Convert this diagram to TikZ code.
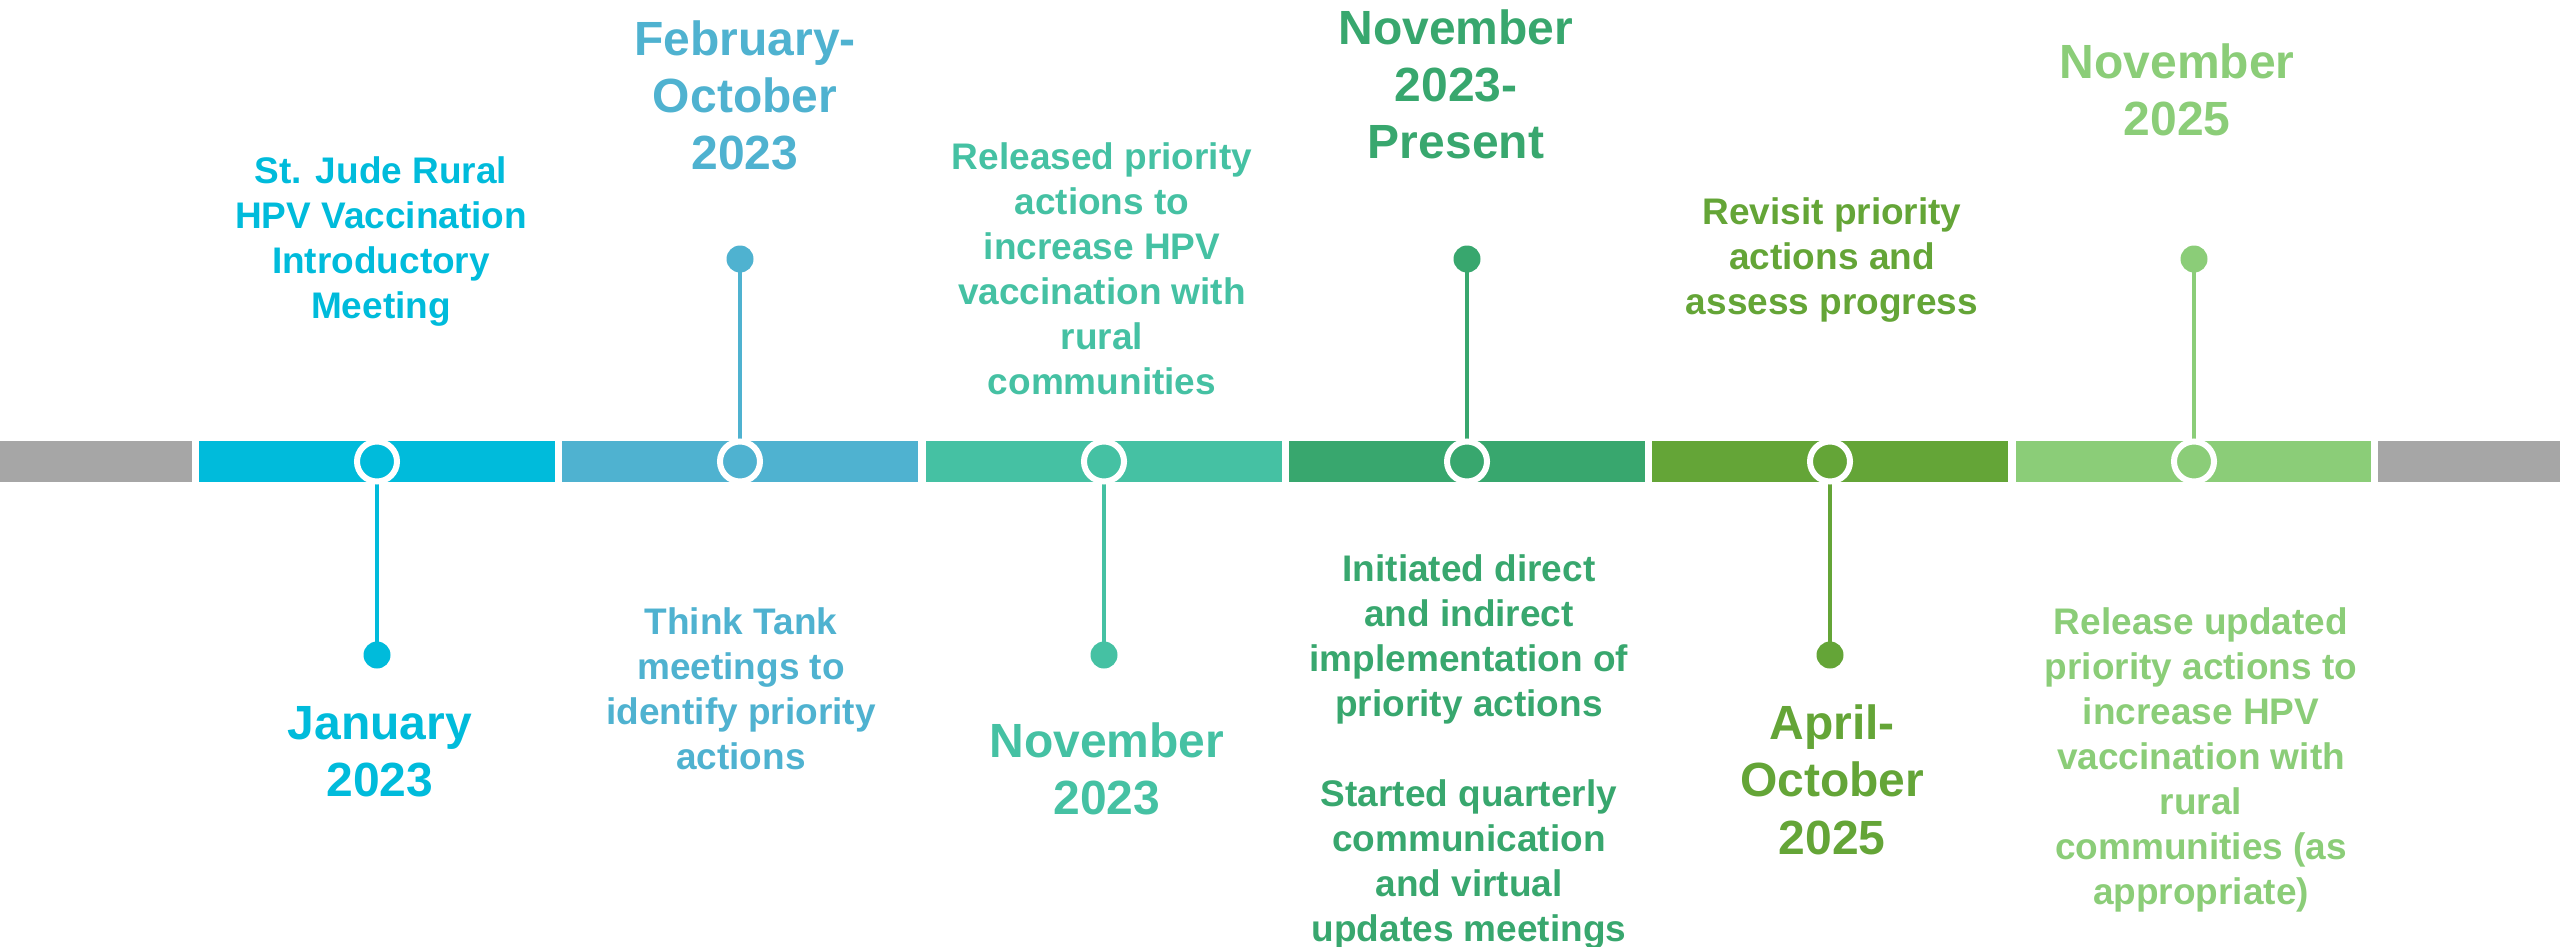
\documentclass[tikz,border=0pt]{standalone}
\usepackage{fontspec}
\setmainfont{Liberation Sans}
\definecolor{cCyan}{HTML}{00BBDB}
\definecolor{cBlue}{HTML}{4FB2D0}
\definecolor{cTeal}{HTML}{45C1A3}
\definecolor{cDkGreen}{HTML}{38A76E}
\definecolor{cOlive}{HTML}{64A537}
\definecolor{cLtGreen}{HTML}{8BCD78}
\definecolor{cGray}{HTML}{A6A6A6}
\begin{document}
\begin{tikzpicture}[x=1pt,y=-1pt,
  desc/.style={align=center, font=\fontsize{37}{45}\selectfont\bfseries, inner sep=0pt, anchor=base},
  datetxt/.style={align=center, font=\fontsize{48}{57.5}\selectfont\bfseries, inner sep=0pt, anchor=base},
  ring/.style={circle, minimum size=40pt, inner sep=0pt, fill=#1, draw=white, line width=6pt},
  dot/.style={circle, minimum size=27pt, inner sep=0pt, fill=#1},
  stem/.style={draw=#1, line width=4pt}]
\useasboundingbox (0,0) rectangle (2560,947);
% bar segments
\fill[cGray]    (0,441) rectangle (192,482);
\fill[cCyan]    (199,441) rectangle (555,482);
\fill[cBlue]    (562,441) rectangle (918,482);
\fill[cTeal]    (926,441) rectangle (1282,482);
\fill[cDkGreen] (1289,441) rectangle (1645,482);
\fill[cOlive]   (1652,441) rectangle (2008,482);
\fill[cLtGreen] (2016,441) rectangle (2371,482);
\fill[cGray]    (2378,441) rectangle (2560,482);
% dots
\node[dot=cCyan]    (d1) at (377,655) {};
\node[dot=cBlue]    (d2) at (740,259) {};
\node[dot=cTeal]    (d3) at (1104,655) {};
\node[dot=cDkGreen] (d4) at (1467,259) {};
\node[dot=cOlive]   (d5) at (1830,655) {};
\node[dot=cLtGreen] (d6) at (2194,259) {};
% ring positions
\coordinate (p1) at (377,461.5);
\coordinate (p2) at (740,461.5);
\coordinate (p3) at (1104,461.5);
\coordinate (p4) at (1467,461.5);
\coordinate (p5) at (1830,461.5);
\coordinate (p6) at (2194,461.5);
% stems
\draw[stem=cCyan]    (d1.center) -- (p1);
\draw[stem=cBlue]    (d2.center) -- (p2);
\draw[stem=cTeal]    (d3.center) -- (p3);
\draw[stem=cDkGreen] (d4.center) -- (p4);
\draw[stem=cOlive]   (d5.center) -- (p5);
\draw[stem=cLtGreen] (d6.center) -- (p6);
% rings
\node[ring=cCyan]    (r1) at (p1) {};
\node[ring=cBlue]    (r2) at (p2) {};
\node[ring=cTeal]    (r3) at (p3) {};
\node[ring=cDkGreen] (r4) at (p4) {};
\node[ring=cOlive]   (r5) at (p5) {};
\node[ring=cLtGreen] (r6) at (p6) {};
% texts (anchor = baseline of last line)
\node[desc, text=cCyan] (t1) at (381,318) {St. Jude Rural\\HPV Vaccination\\Introductory\\Meeting};
\node[datetxt, text=cCyan] (t2) at (380,796.5) {January\\2023};
\node[datetxt, text=cBlue] (t3) at (745,170) {February-\\October\\2023};
\node[desc, text=cBlue] (t4) at (741,769) {Think Tank\\meetings to\\identify priority\\actions};
\node[desc, text=cTeal] (t5) at (1102,394) {Released priority\\actions to\\increase HPV\\vaccination with\\rural\\communities};
\node[datetxt, text=cTeal] (t6) at (1107,814.5) {November\\2023};
\node[datetxt, text=cDkGreen] (t7) at (1456,159) {November\\2023-\\Present};
\node[desc, text=cDkGreen] (t8) at (1469,941) {Initiated direct\\and indirect\\implementation of\\priority actions\\[45pt]Started quarterly\\communication\\and virtual\\updates meetings};
\node[desc, text=cOlive] (t9) at (1832,314) {Revisit priority\\actions and\\assess progress};
\node[datetxt, text=cOlive] (t10) at (1832,854) {April-\\October\\2025};
\node[datetxt, text=cLtGreen] (t11) at (2177,135.5) {November\\2025};
\node[desc, text=cLtGreen] (t12) at (2201,904) {Release updated\\priority actions to\\increase HPV\\vaccination with\\rural\\communities (as\\appropriate)};
\end{tikzpicture}
\end{document}
